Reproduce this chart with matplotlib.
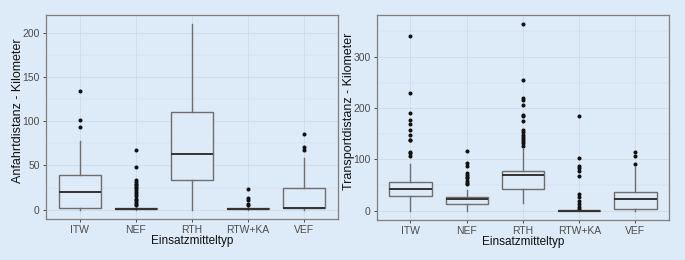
import matplotlib
matplotlib.use("Agg")
import matplotlib.pyplot as plt
from matplotlib.ticker import MultipleLocator

categories = ["ITW", "NEF", "RTH", "RTW+KA", "VEF"]

# Anfahrtdistanz (left panel): whisker low, q1, median, q3, whisker high
anf_whislo = [0, 0, 0, 0, 0]
anf_q1 = [2, 0.3, 33.7, 0.3, 2]
anf_med = [19.7, 1, 63, 1, 2.3]
anf_q3 = [39, 2, 111, 2, 25]
anf_whishi = [78, 4, 210, 4, 58.7]
anf_fliers = [
    [134, 102, 94],
    [67, 48, 33, 31, 29, 27.6, 26, 24, 22, 20, 18, 15.5, 12.5, 10.6, 8.7, 6.8, 5],
    [],
    [23, 13, 10.6, 6, 5],
    [86, 70.5, 68],
]

# Transportdistanz (right panel)
tra_whislo = [0, 0, 14.4, 0, 0]
tra_q1 = [29.4, 12.4, 43, 0, 3.3]
tra_med = [43, 23, 69, 0, 23.5]
tra_q3 = [55.6, 26, 77, 0.5, 37]
tra_whishi = [91, 40.5, 120, 1, 85]
tra_fliers = [
    [340, 229, 190, 176, 170, 157, 148, 138.6, 137, 115, 112, 107],
    [116, 93, 88, 72.5, 69, 66, 63, 57, 54, 51.6],
    [364, 255.6, 219, 215, 206.5, 187.6, 184, 174.5, 158, 153, 148, 144, 140, 135, 132, 127],
    [185, 102, 88, 83, 78, 66.7, 32, 26, 19, 13, 6.5, 2.6],
    [115, 106, 91.5],
]

xlabel = "Einsatzmitteltyp"
ylabel_left = "Anfahrtdistanz - Kilometer"
ylabel_right = "Transportdistanz - Kilometer"

BG = "#ddeaf7"
GRID = "#cfdbe8"
TXT = "#4d4d4d"
plt.rcParams["font.family"] = ["Liberation Sans", "DejaVu Sans"]

fig = plt.figure(figsize=(6.85, 2.6), dpi=100, facecolor=BG)
axL = fig.add_axes([0.067, 0.158, 0.426, 0.785])
axR = fig.add_axes([0.550, 0.154, 0.427, 0.789])


def draw(ax, wl, q1, med, q3, wh, fl, ylabel, major):
    stats = []
    for i, c in enumerate(categories):
        stats.append(dict(label=c, whislo=wl[i], q1=q1[i], med=med[i], q3=q3[i],
                          whishi=wh[i], fliers=fl[i]))
    pos = list(range(1, len(categories) + 1))
    ax.bxp(stats, positions=pos, widths=0.75, patch_artist=True, showcaps=False,
           boxprops=dict(facecolor=BG, edgecolor="#6e6e6e", linewidth=1.0),
           whiskerprops=dict(color="#6e6e6e", linewidth=1.0),
           medianprops=dict(color="#333333", linewidth=1.4),
           flierprops=dict(marker="o", markersize=1.9, markerfacecolor="#111111",
                           markeredgecolor="#111111", linestyle="none"))
    allv = [v for s in stats for v in [s["whislo"], s["whishi"]] + list(s["fliers"])]
    lo, hi = min(allv), max(allv)
    pad = 0.05 * (hi - lo)
    ax.set_ylim(lo - pad, hi + pad)
    ax.set_xlim(0.4, len(categories) + 0.6)
    ax.set_facecolor(BG)
    ax.yaxis.set_major_locator(MultipleLocator(major))
    ax.yaxis.set_minor_locator(MultipleLocator(major / 2))
    ax.grid(True, which="major", color=GRID, linewidth=0.6)
    ax.grid(True, which="minor", axis="y", color=GRID, linewidth=0.3)
    ax.set_axisbelow(True)
    for sp in ax.spines.values():
        sp.set_color("#7f7f7f")
        sp.set_linewidth(0.9)
    ax.tick_params(axis="both", which="major", colors="#333333", labelcolor=TXT,
                   labelsize=7.5, length=2.5, width=0.6, pad=2)
    ax.tick_params(axis="both", which="minor", length=0)
    ax.set_xticks(pos)
    ax.set_xticklabels(categories)
    ax.set_xlabel(xlabel, fontsize=8.5, color="#111111", labelpad=0)
    ax.set_ylabel(ylabel, fontsize=9.0, color="#111111")
    ax.yaxis.set_label_coords(-0.075, 0.53)


draw(axL, anf_whislo, anf_q1, anf_med, anf_q3, anf_whishi, anf_fliers, ylabel_left, 50)
draw(axR, tra_whislo, tra_q1, tra_med, tra_q3, tra_whishi, tra_fliers, ylabel_right, 100)

fig.savefig("out.png", dpi=100, facecolor=BG)
